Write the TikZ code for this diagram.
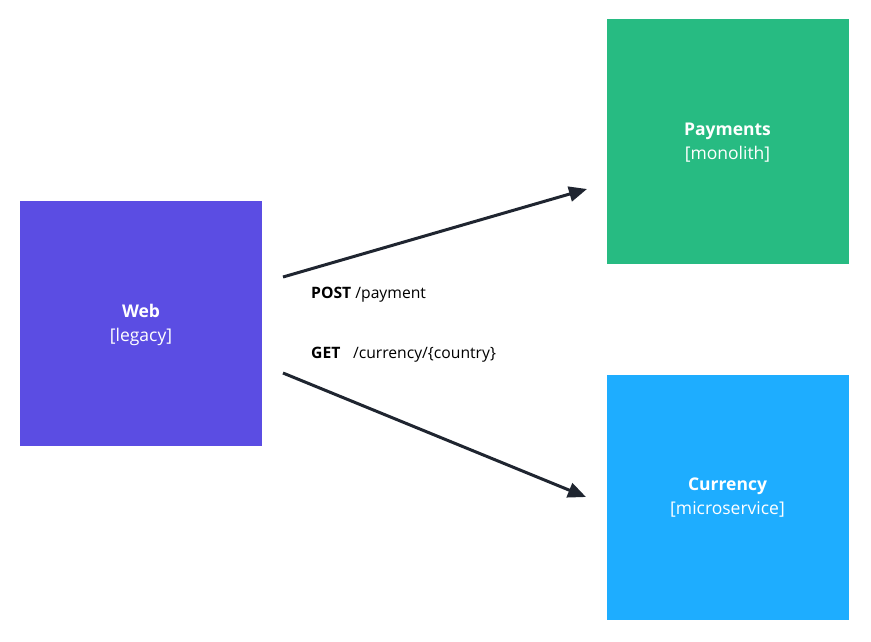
\documentclass[tikz,border=0pt]{standalone}
\usepackage{fontspec}
\setmainfont{Open Sans}
\usetikzlibrary{arrows.meta}
\definecolor{webc}{HTML}{5B4DE3}
\definecolor{payc}{HTML}{27BB82}
\definecolor{curc}{HTML}{1EADFF}
\definecolor{linec}{HTML}{1F2530}
\tikzset{
  box/.style={fill=#1, draw=none, minimum width=242pt, minimum height=245pt, inner sep=0pt},
  boxtext/.style={text=white, align=center, inner sep=0pt, font=\fontsize{17.5}{24}\selectfont},
  conn/.style={line width=3pt, draw=linec, -{Triangle[length=18pt,width=15pt]}},
  lbl/.style={anchor=west, inner sep=0pt, font=\fontsize{15.7}{17}\selectfont, text=black}
}
\begin{document}
\begin{tikzpicture}[x=1pt,y=-1pt]
\useasboundingbox (0,0) rectangle (871,641);
\node[box=webc] (web) at (141,323.5) {};
\node[box=payc] (pay) at (727.5,141.5) {};
\node[box=curc] (cur) at (727.5,497) {};
\node[boxtext] (webt) at ([yshift=-1pt]web.center) {\textbf{Web}\\{[legacy]}};
\node[boxtext] (payt) at ([yshift=-1.5pt]pay.center) {\textbf{Payments}\\{[monolith]}};
\node[boxtext] (curt) at ([yshift=-1pt]cur.center) {\textbf{Currency}\\{[microservice]}};
\coordinate (s1) at (283,277);
\coordinate (e1) at (587,189);
\coordinate (s2) at (283,373);
\coordinate (e2) at (586,497);
\draw[conn] (s1) -- (e1);
\draw[conn] (s2) -- (e2);
\node[lbl] (l1) at (311,294.5) {\textbf{POST} /payment};
\node[lbl] (l2) at (311,354.5) {\textbf{GET}\hspace{0.8em}/currency/\{country\}};
\end{tikzpicture}
\end{document}
